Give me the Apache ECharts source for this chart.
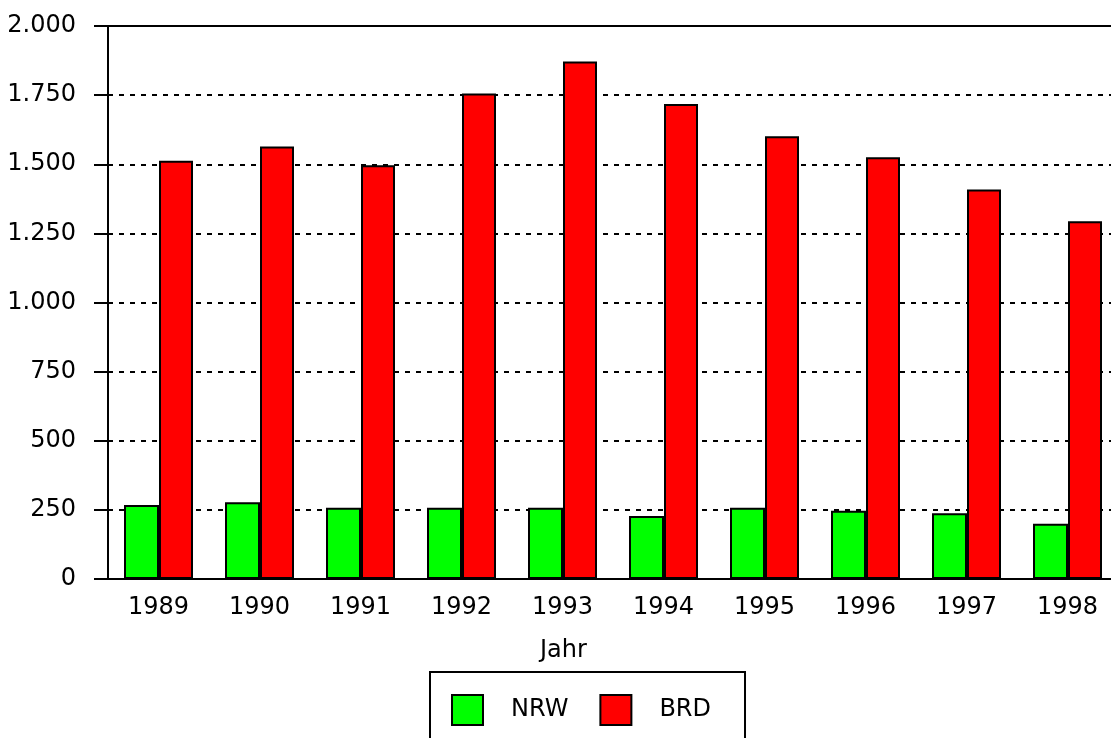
<!DOCTYPE html>
<html>
<head>
<meta charset="utf-8">
<script src="https://cdn.jsdelivr.net/npm/echarts@6/dist/echarts.min.js"></script>
<style>html,body{margin:0;padding:0;background:#fff}#c{width:1111px;height:738px}</style>
</head>
<body>
<div id="c"></div>
<script>
const years = ['1989','1990','1991','1992','1993','1994','1995','1996','1997','1998'];
const nrw = [268, 278, 258, 258, 258, 228, 258, 247, 238, 200];
const brd = [1513, 1564, 1496, 1756, 1872, 1718, 1601, 1525, 1409, 1294];
const yTicks = [0, 250, 500, 750, 1000, 1250, 1500, 1750, 2000];

const FONT = 'DejaVu Sans';
const chart = echarts.init(document.getElementById('c'), null, {renderer: 'canvas'});
chart.setOption({
  animation: false,
  backgroundColor: '#fff',
  grid: {left: 108, top: 26, width: 1010, bottom: 159, outerBoundsMode: 'none', containLabel: false,
         show: true, borderColor: '#000', borderWidth: 2},
  xAxis: {
    type: 'category', data: years,
    axisLine: {lineStyle: {color: '#000', width: 2}},
    axisTick: {alignWithLabel: true, length: 7, lineStyle: {color: '#000', width: 2}},
    axisLabel: {color: '#000', fontFamily: FONT, fontSize: 24, margin: 17}
  },
  yAxis: {
    type: 'value', min: yTicks[0], max: yTicks[yTicks.length - 1], interval: 250,
    axisLine: {show: true, lineStyle: {color: '#000', width: 2}},
    axisTick: {show: true, length: 14, lineStyle: {color: '#000', width: 2}},
    axisLabel: {color: '#000', fontFamily: FONT, fontSize: 24, margin: 32,
      formatter: v => String(v).replace(/\B(?=(\d{3})+(?!\d))/g, '.')},
    splitLine: {show: true, lineStyle: {color: '#000', width: 2, type: [5, 6]}}
  },
  legend: {
    left: 430, top: 672,
    padding: [22, 34, 22, 21],
    borderColor: '#000', borderWidth: 2,
    itemWidth: 31, itemHeight: 30, itemGap: 31,
    icon: 'rect',
    textStyle: {color: '#000', fontFamily: FONT, fontSize: 24, padding: [0, 0, 0, 23]},
    data: ['NRW', 'BRD']
  },
  graphic: [{
    type: 'text', left: 540, top: 639,
    style: {text: 'Jahr', fontFamily: FONT, fontSize: 24, fill: '#000'}
  }],
  series: [
    {name: 'NRW', type: 'bar', data: nrw, barWidth: 35, barGap: '0%',
     itemStyle: {color: '#00ff00', borderColor: '#000', borderWidth: 2}},
    {name: 'BRD', type: 'bar', data: brd, barWidth: 34, barGap: '0%',
     itemStyle: {color: '#ff0000', borderColor: '#000', borderWidth: 2}}
  ]
});
</script>
</body>
</html>
